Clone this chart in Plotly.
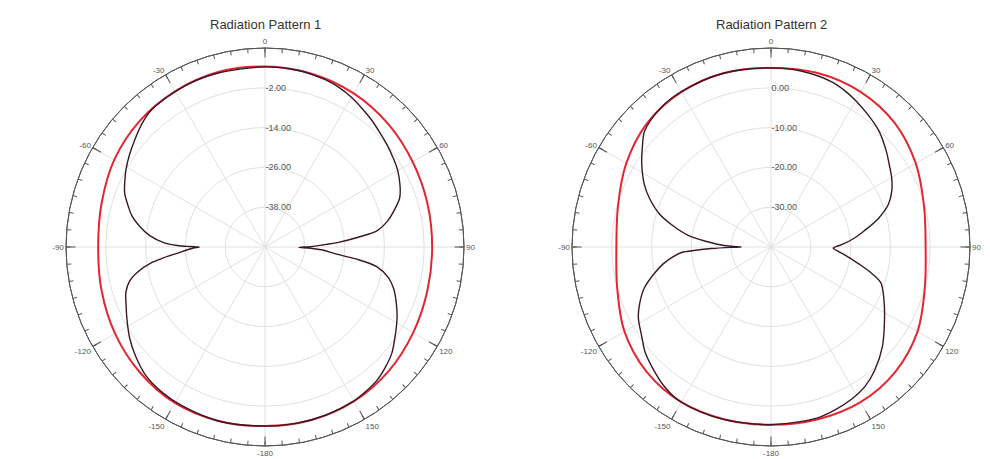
import plotly.graph_objects as go

# ---------------- data (dB vs angle in degrees) ----------------
ANGLE_TICKS = [0, 30, 60, 90, 120, 150, 180, 210, 240, 270, 300, 330]
ANGLE_LABELS = ["0", "30", "60", "90", "120", "150", "-180", "-150", "-120", "-90", "-60", "-30"]

RED_THETA = [-180, -165, -150, -135, -120, -105, -90, -75, -60, -45, -30, -15, 0,
             15, 30, 45, 60, 75, 90, 105, 120, 135, 150, 165, 180]

# Pattern 1
P1_RED = [4.0, 4.3, 4.3, 3.4, 2.2, 1.0, 0.3, 1.0, 2.5, 3.6, 4.2, 4.6, 4.4,
          4.1, 3.5, 2.5, 1.4, 0.7, 0.4, 0.7, 1.6, 2.8, 3.7, 4.0, 4.0]
P1_BLK_THETA = [-180, -165, -152, -145, -137, -130, -124, -118, -112, -108,
                -104, -101, -98, -96, -94, -92, -90.8, -90, -89.6, -89,
                -87.5, -84.4, -80.5, -76.8, -72.5, -68.8, -64.5, -60.8, -55.5, -50.4,
                -45, -40, -33, -25, -15, 0, 10, 20, 25, 30,
                35, 40, 45, 50, 55, 60, 66, 70, 74, 78,
                81.7, 84, 86.4, 88, 89.5, 90.5, 91.5, 93, 95.6, 97.5,
                100, 104, 108, 113, 118, 124, 130, 135, 140, 145,
                150, 160, 170, 180]
P1_BLK = [4.0, 4.3, 4.0, 3.7, 2.8, 1.0, -0.8, -2.9, -4.8, -5.9,
          -8.0, -11.0, -15.2, -19.4, -23.6, -26.6, -28.4, -30.2, -27.2, -23.6,
          -19.4, -15.1, -11.6, -8.8, -6.5, -4.6, -3.2, -2.0, -0.5, 0.9,
          2.5, 3.6, 4.0, 4.3, 4.3, 4.3, 4.2, 3.6, 3.0, 2.1,
          1.0, 0.0, -1.1, -2.0, -2.9, -3.8, -5.4, -6.8, -9.4, -12.2,
          -15.8, -21.8, -27.8, -32.6, -36.2, -39.8, -36.2, -32.6, -28.6, -22.4,
          -15.8, -11.6, -9.2, -7.0, -4.9, -2.6, -0.1, 1.3, 2.5, 3.1,
          3.6, 3.9, 4.0, 4.0]
P1_RANGE = [-50, 10]
P1_RTICKS = [-38, -26, -14, -2]
P1_RLABELS = ["-38.00", "-26.00", "-14.00", "-2.00"]

# Pattern 2
P2_RED = [4.65, 4.85, 5.0, 4.25, 2.5, 0.0, -1.15, -0.2, 2.0, 4.0, 5.0, 5.25, 5.0,
          5.25, 5.0, 4.0, 2.0, -0.2, -1.15, 0.0, 2.5, 4.25, 5.0, 4.85, 4.65]
P2_BLK_THETA = [-180, -170, -160, -148.7, -142, -136.5, -130, -124.7, -118, -113,
                -108, -103, -99, -96, -93.5, -92.5, -91.5, -90.5, -90, -89,
                -87, -85, -82, -78, -73.6, -68, -63.7, -57.4, -52, -47.6,
                -40, -33, -20, -10, 0, 10, 20, 25, 30, 36,
                43, 50, 55, 60, 65, 70, 75, 80, 84, 87.6,
                89.5, 91, 93, 96, 100.9, 104, 108, 114, 121.6, 131.7,
                140, 146, 152, 158.7, 165, 180]
P2_BLK = [4.65, 4.75, 5.0, 5.0, 4.0, 2.75, 1.25, -0.5, -2.25, -4.2,
          -6.5, -9.8, -12.5, -15.0, -17.5, -21.0, -25.0, -30.0, -32.5, -30.0,
          -26.5, -23.5, -19.0, -15.0, -10.85, -7.0, -4.5, -1.45, 1.0, 3.05,
          4.4, 5.0, 5.25, 5.15, 5.0, 4.85, 4.25, 3.5, 2.5, 1.25,
          -0.2, -2.25, -3.75, -5.0, -6.5, -8.6, -12.0, -16.1, -19.0, -21.8,
          -23.5, -24.4, -23.5, -21.5, -17.55, -14.5, -11.0, -9.0, -6.5, -2.5,
          0.5, 2.25, 3.25, 4.0, 4.5, 4.65]
P2_RANGE = [-40, 10]
P2_RTICKS = [-30, -20, -10, 0]
P2_RLABELS = ["-30.00", "-20.00", "-10.00", "0.00"]

TITLES = ["Radiation Pattern 1", "Radiation Pattern 2"]

# ---------------- figure ----------------
W, H = 990, 459
RAD = 199
CENTERS = [(257, 239), (763, 239)]

RED = "#e5262f"
BLK = "#3b1628"
FONT = "Liberation Sans, Arial, sans-serif"

fig = go.Figure()


def dom(cx, cy):
    ybot = H - cy
    return dict(x=[(cx - RAD) / W, (cx + RAD) / W], y=[(ybot - RAD) / H, (ybot + RAD) / H])


panels = [
    (P1_RED, P1_BLK_THETA, P1_BLK, P1_RANGE, P1_RTICKS, P1_RLABELS),
    (P2_RED, P2_BLK_THETA, P2_BLK, P2_RANGE, P2_RTICKS, P2_RLABELS),
]

layout_polars = {}
for i, (red, bth, blk, rng, rt, rl) in enumerate(panels):
    main = "polar" if i == 0 else "polar2"
    over = "polar3" if i == 0 else "polar4"
    fig.add_trace(go.Scatterpolar(r=red, theta=RED_THETA, mode="lines", subplot=main,
                                  line=dict(color=RED, width=2, shape="spline", smoothing=1),
                                  showlegend=False, hoverinfo="skip"))
    fig.add_trace(go.Scatterpolar(r=blk, theta=bth, mode="lines", subplot=main,
                                  line=dict(color=BLK, width=1.4, shape="spline", smoothing=0.9),
                                  showlegend=False, hoverinfo="skip"))
    fig.add_trace(go.Scatterpolar(r=[None], theta=[None], mode="lines", subplot=over,
                                  showlegend=False, hoverinfo="skip"))
    d = dom(*CENTERS[i])
    layout_polars[main] = dict(
        domain=d,
        bgcolor="white",
        angularaxis=dict(
            rotation=90, direction="clockwise",
            tickmode="array", tickvals=ANGLE_TICKS, ticktext=ANGLE_LABELS,
            ticks="inside", ticklen=9, tickwidth=1, tickcolor="#555555",
            showline=True, linecolor="#555555", linewidth=1,
            showgrid=True, gridcolor="#e0e0e0", gridwidth=1,
            tickfont=dict(size=8, color="#555555", family=FONT),
        ),
        radialaxis=dict(
            range=rng, angle=90, side="clockwise", tickangle=90,
            tickmode="array", tickvals=rt, ticktext=rl,
            ticks="", showline=False,
            showgrid=True, gridcolor="#e0e0e0", gridwidth=1,
            tickfont=dict(size=9, color="#555555", family=FONT),
        ),
    )
    layout_polars[over] = dict(
        domain=d,
        bgcolor="rgba(0,0,0,0)",
        angularaxis=dict(
            rotation=90, direction="clockwise",
            tickmode="array", tickvals=list(range(0, 360, 5)),
            ticks="inside", ticklen=4, tickwidth=1, tickcolor="#555555",
            showticklabels=False,
            showline=True, linecolor="#555555", linewidth=1,
            showgrid=False,
        ),
        radialaxis=dict(range=rng, visible=False, showgrid=False),
    )

annotations = []
for i, t in enumerate(TITLES):
    annotations.append(dict(text=t, x=CENTERS[i][0] / W, y=1 - 17 / H, xref="paper", yref="paper",
                            xanchor="center", yanchor="middle", showarrow=False,
                            font=dict(size=13, color="#333333", family=FONT)))

fig.update_layout(
    width=W, height=H,
    margin=dict(l=0, r=0, t=0, b=0),
    paper_bgcolor="white", plot_bgcolor="white",
    showlegend=False,
    annotations=annotations,
    **layout_polars,
)

fig.write_html("out.html")
